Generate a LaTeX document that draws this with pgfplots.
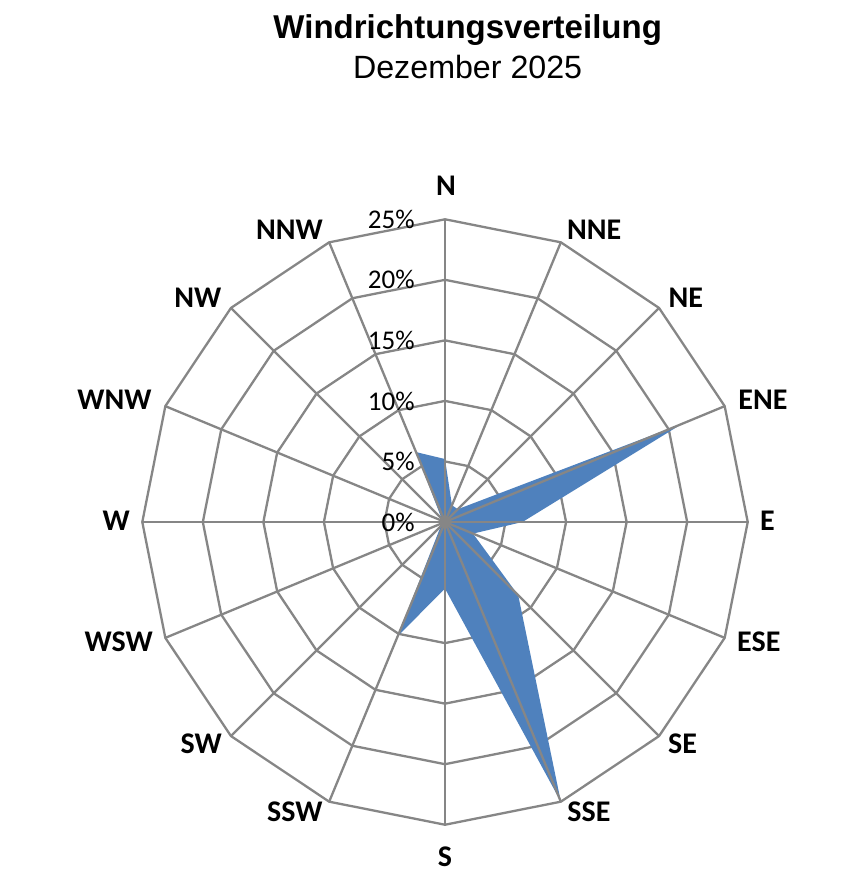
\documentclass[border=0pt]{standalone}
\usepackage{pgfplots}
\pgfplotsset{compat=1.18}
\usepackage{fontspec}
\setmainfont{Carlito}
\newfontfamily\arial{Liberation Sans}
\definecolor{gridgray}{RGB}{134,134,134}
\definecolor{serblue}{RGB}{79,129,189}
\begin{document}
\begin{tikzpicture}
\begin{axis}[
  x=6.054pt, y=6.054pt,
  xmin=-36.75, xmax=32.79, ymin=-30.72, ymax=43.11,
  hide axis, clip=false,
]
% rings (polygonal grid)
\addplot[gridgray, line width=1.15pt, data cs=polar] coordinates {(90,5)(67.5,5)(45,5)(22.5,5)(0,5)(-22.5,5)(-45,5)(-67.5,5)(-90,5)(-112.5,5)(-135,5)(-157.5,5)(-180,5)(-202.5,5)(-225,5)(-247.5,5)} -- cycle;
\addplot[gridgray, line width=1.15pt, data cs=polar] coordinates {(90,10)(67.5,10)(45,10)(22.5,10)(0,10)(-22.5,10)(-45,10)(-67.5,10)(-90,10)(-112.5,10)(-135,10)(-157.5,10)(-180,10)(-202.5,10)(-225,10)(-247.5,10)} -- cycle;
\addplot[gridgray, line width=1.15pt, data cs=polar] coordinates {(90,15)(67.5,15)(45,15)(22.5,15)(0,15)(-22.5,15)(-45,15)(-67.5,15)(-90,15)(-112.5,15)(-135,15)(-157.5,15)(-180,15)(-202.5,15)(-225,15)(-247.5,15)} -- cycle;
\addplot[gridgray, line width=1.15pt, data cs=polar] coordinates {(90,20)(67.5,20)(45,20)(22.5,20)(0,20)(-22.5,20)(-45,20)(-67.5,20)(-90,20)(-112.5,20)(-135,20)(-157.5,20)(-180,20)(-202.5,20)(-225,20)(-247.5,20)} -- cycle;
\addplot[gridgray, line width=1.15pt, data cs=polar] coordinates {(90,25)(67.5,25)(45,25)(22.5,25)(0,25)(-22.5,25)(-45,25)(-67.5,25)(-90,25)(-112.5,25)(-135,25)(-157.5,25)(-180,25)(-202.5,25)(-225,25)(-247.5,25)} -- cycle;
% data: N, NNE, NE, ENE, E, ESE, SE, SSE, S, SSW, SW, WSW, W, WNW, NW, NNW
\addplot[fill=serblue, draw=none, data cs=polar] coordinates {
  (90,5.2)(67.5,1.5)(45,1.5)(22.5,21.2)(0,6.4)(-22.5,2.5)(-45,8.55)(-67.5,25.0)
  (-90,5.5)(-112.5,10.2)(-135,0.5)(-157.5,0.3)(-180,0.3)(-202.5,0.5)(-225,0.4)(-247.5,6.25)} -- cycle;
% spokes
\addplot[gridgray, line width=1.15pt, data cs=polar] coordinates {(90,25)(270,25)};
\addplot[gridgray, line width=1.15pt, data cs=polar] coordinates {(67.5,25)(247.5,25)};
\addplot[gridgray, line width=1.15pt, data cs=polar] coordinates {(45,25)(225,25)};
\addplot[gridgray, line width=1.15pt, data cs=polar] coordinates {(22.5,25)(202.5,25)};
\addplot[gridgray, line width=1.15pt, data cs=polar] coordinates {(0,25)(180,25)};
\addplot[gridgray, line width=1.15pt, data cs=polar] coordinates {(-22.5,25)(157.5,25)};
\addplot[gridgray, line width=1.15pt, data cs=polar] coordinates {(-45,25)(135,25)};
\addplot[gridgray, line width=1.15pt, data cs=polar] coordinates {(-67.5,25)(112.5,25)};
% tick labels
\pgfplotsinvokeforeach{0,5,10,15,20,25}{
  \node[anchor=east, inner sep=0pt, font=\fontsize{13.5}{16}\selectfont] at (axis cs:-2.48,#1) {#1\%};
}
% direction labels
\begin{scope}[every node/.style={inner sep=0pt, font=\fontsize{15}{18}\selectfont\bfseries}]
\node[anchor=center] at (axis cs:0.08,27.75) {N};
\node[anchor=west] at (axis cs:10.05,24.12) {NNE};
\node[anchor=west] at (axis cs:18.44,18.5) {NE};
\node[anchor=west] at (axis cs:24.2,10.08) {ENE};
\node[anchor=west] at (axis cs:26.0,0.08) {E};
\node[anchor=west] at (axis cs:24.1,-9.91) {ESE};
\node[anchor=west] at (axis cs:18.4,-18.34) {SE};
\node[anchor=west] at (axis cs:10.08,-23.95) {SSE};
\node[anchor=center] at (axis cs:0,-27.67) {S};
\node[anchor=east] at (axis cs:-10.08,-23.95) {SSW};
\node[anchor=east] at (axis cs:-18.4,-18.34) {SW};
\node[anchor=east] at (axis cs:-24.1,-9.91) {WSW};
\node[anchor=east] at (axis cs:-26.0,0.08) {W};
\node[anchor=east] at (axis cs:-24.2,10.08) {WNW};
\node[anchor=east] at (axis cs:-18.44,18.5) {NW};
\node[anchor=east] at (axis cs:-10.05,24.12) {NNW};
\end{scope}
% title
\node[anchor=base, inner sep=0pt, font=\arial\fontsize{16.5}{19}\selectfont\bfseries] at (axis cs:1.87,39.97) {Windrichtungsverteilung};
\node[anchor=base, inner sep=0pt, font=\arial\fontsize{16.1}{19}\selectfont] at (axis cs:1.87,36.59) {Dezember 2025};
\end{axis}
\pgfresetboundingbox
\path (current axis.south west) rectangle (current axis.north east);
\end{tikzpicture}
\end{document}
